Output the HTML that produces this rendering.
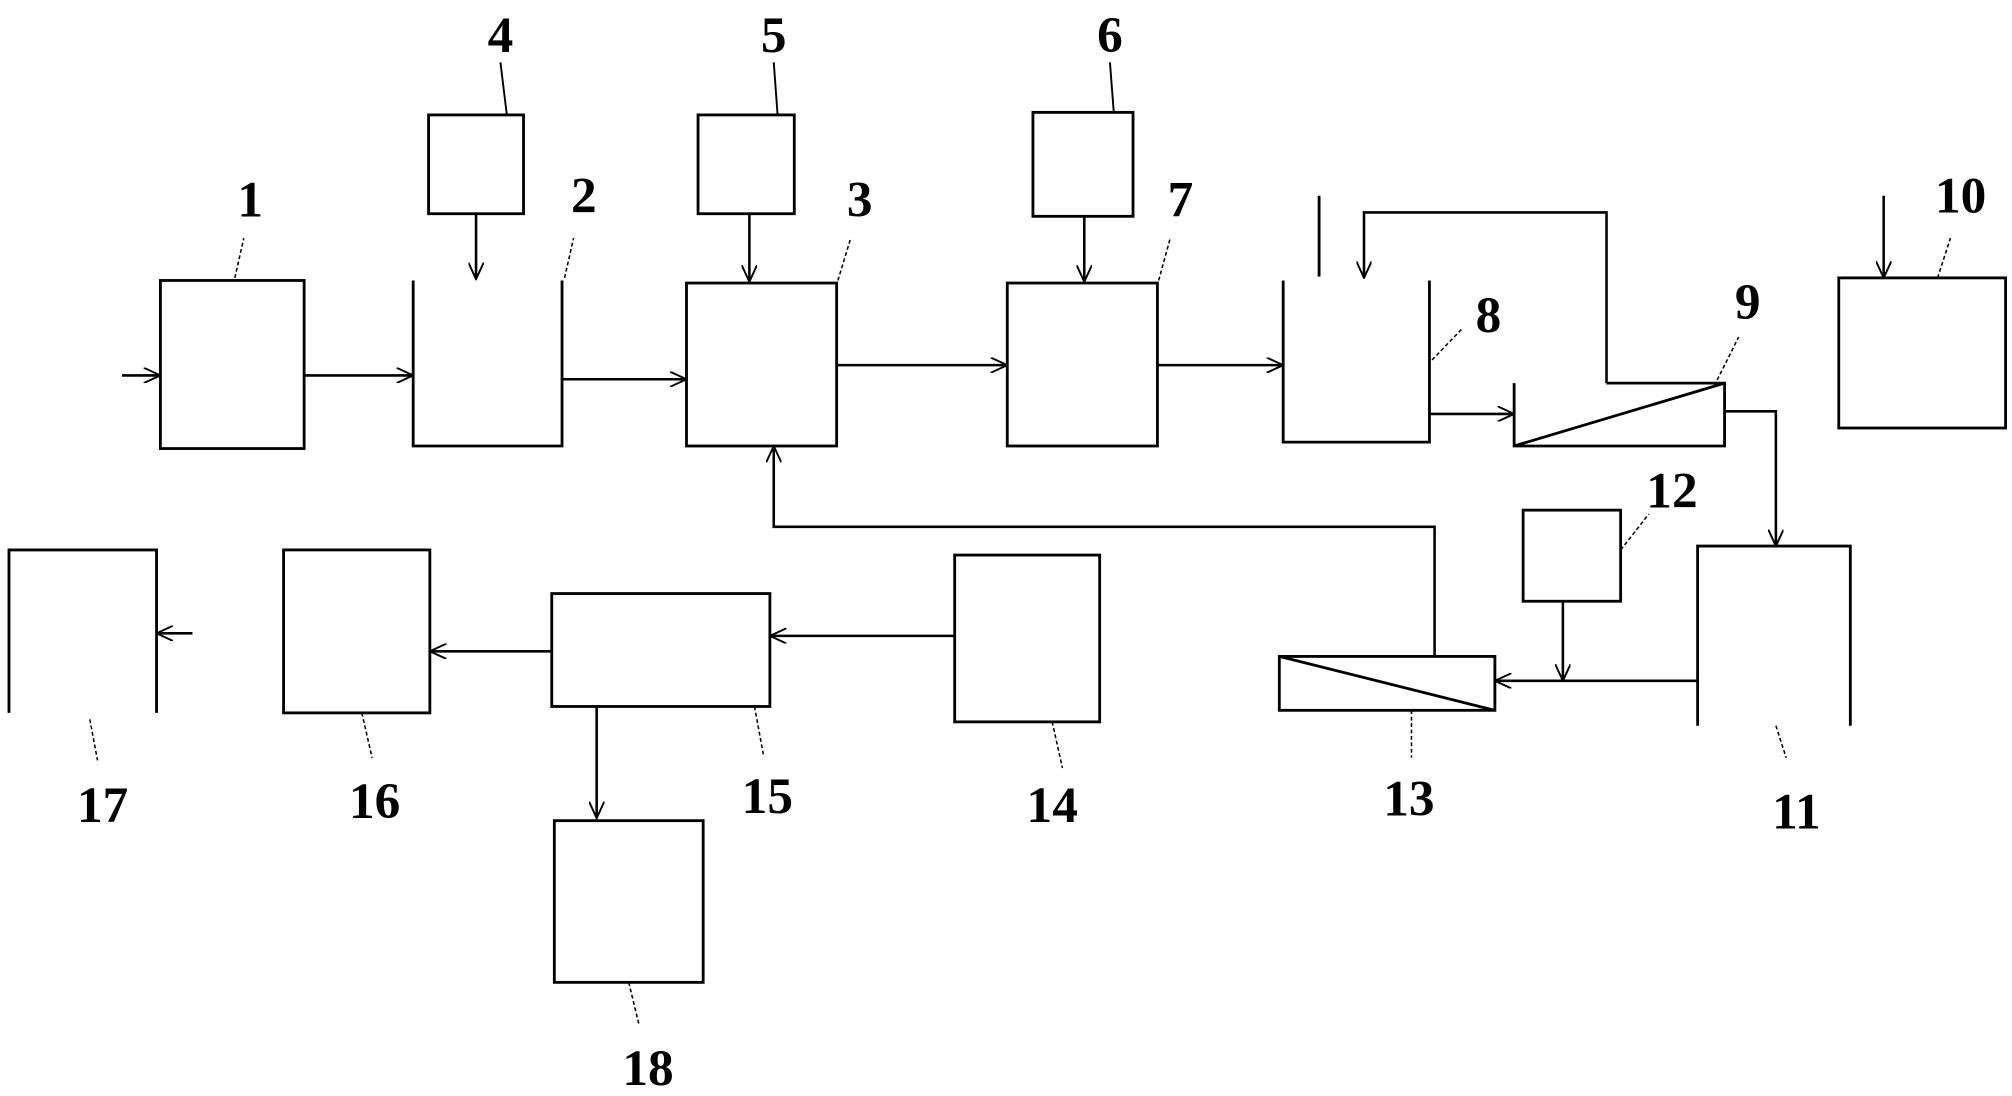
<!DOCTYPE html>
<html><head><meta charset="utf-8"><style>html,body{margin:0;padding:0;background:#fff}svg{display:block}</style></head><body>
<svg width="2012" height="1096" viewBox="0 0 1568 853" xmlns="http://www.w3.org/2000/svg">
<defs><marker id="a" markerWidth="14" markerHeight="12" refX="13" refY="6" orient="auto" markerUnits="userSpaceOnUse"><path d="M0,0 L13,6 L0,12" fill="none" stroke="#000" stroke-width="1.5"/></marker></defs>
<g fill="none" stroke="#000" stroke-width="2.2">
<rect x="125" y="218" width="112" height="131"/>
<path d="M322,218V347H438V218"/>
<rect x="334" y="89" width="74" height="77"/>
<rect x="535" y="220" width="117" height="127"/>
<rect x="544" y="89" width="75" height="77"/>
<rect x="785" y="220" width="117" height="127"/>
<rect x="805" y="87" width="78" height="81"/>
<path d="M1000,218V344H1114V218"/>
<path d="M1180,298V347H1344V298H1252M1180,347L1344,298"/>
<path d="M1323,565V425H1442V565"/>
<rect x="1433" y="216" width="130" height="117"/>
<rect x="1187" y="397" width="76" height="71"/>
<rect x="997" y="511" width="168" height="42"/>
<path d="M997,511L1165,553"/>
<rect x="744" y="432" width="113" height="130"/>
<rect x="430" y="462" width="170" height="88"/>
<rect x="221" y="428" width="114" height="127"/>
<rect x="432" y="639" width="116" height="126"/>
<path d="M7,555V428H122V555"/>
<path d="M1028,152V215"/>
</g>
<g fill="none" stroke="#000" stroke-width="2" marker-end="url(#a)">
<path d="M95,292H125"/>
<path d="M237,292H322"/>
<path d="M371,166V217"/>
<path d="M438,295H535"/>
<path d="M584,166V219"/>
<path d="M652,284H785"/>
<path d="M845,168V219"/>
<path d="M902,284H1000"/>
<path d="M1252,298V165H1063V216"/>
<path d="M1114,322H1180"/>
<path d="M1344,320H1384V425"/>
<path d="M1468,152V216"/>
<path d="M1218,468V530"/>
<path d="M1323,530H1165"/>
<path d="M1118,511V410H603V347"/>
<path d="M744,495H600"/>
<path d="M430,507H335"/>
<path d="M465,550V637"/>
<path d="M150,493H122"/>
</g>
<g fill="none" stroke="#000" stroke-width="1.5">
<path d="M390,48L395,89M603,48L606,89M865,48L868,87"/>
</g>
<g fill="none" stroke="#000" stroke-width="1.2" stroke-dasharray="3,2">
<path d="M183,216L190,185M440,216L447,185M653,218L663,185M903,218L912,185M1116,280L1140,255M1336,300L1355,262M1510,216L1520,185M1263,428L1285,400M1384,565L1392,590M1100,553L1100,590M820,562L828,598M588,550L595,588M282,555L290,590M70,560L76,592M490,765L498,798"/>
</g>
<g font-family="Liberation Serif, serif" font-weight="bold" font-size="40" fill="#000" text-anchor="middle">
<text x="195" y="168">1</text><text x="455" y="165">2</text><text x="670" y="168">3</text>
<text x="390" y="40">4</text><text x="603" y="40">5</text><text x="865" y="40">6</text>
<text x="920" y="168">7</text><text x="1160" y="258">8</text><text x="1362" y="248">9</text>
<text x="1528" y="165">10</text><text x="1400" y="645">11</text><text x="1303" y="395">12</text>
<text x="1098" y="635">13</text><text x="820" y="640">14</text><text x="598" y="633">15</text>
<text x="292" y="637">16</text><text x="80" y="640">17</text><text x="505" y="845">18</text>
</g>
</svg>
</body></html>
